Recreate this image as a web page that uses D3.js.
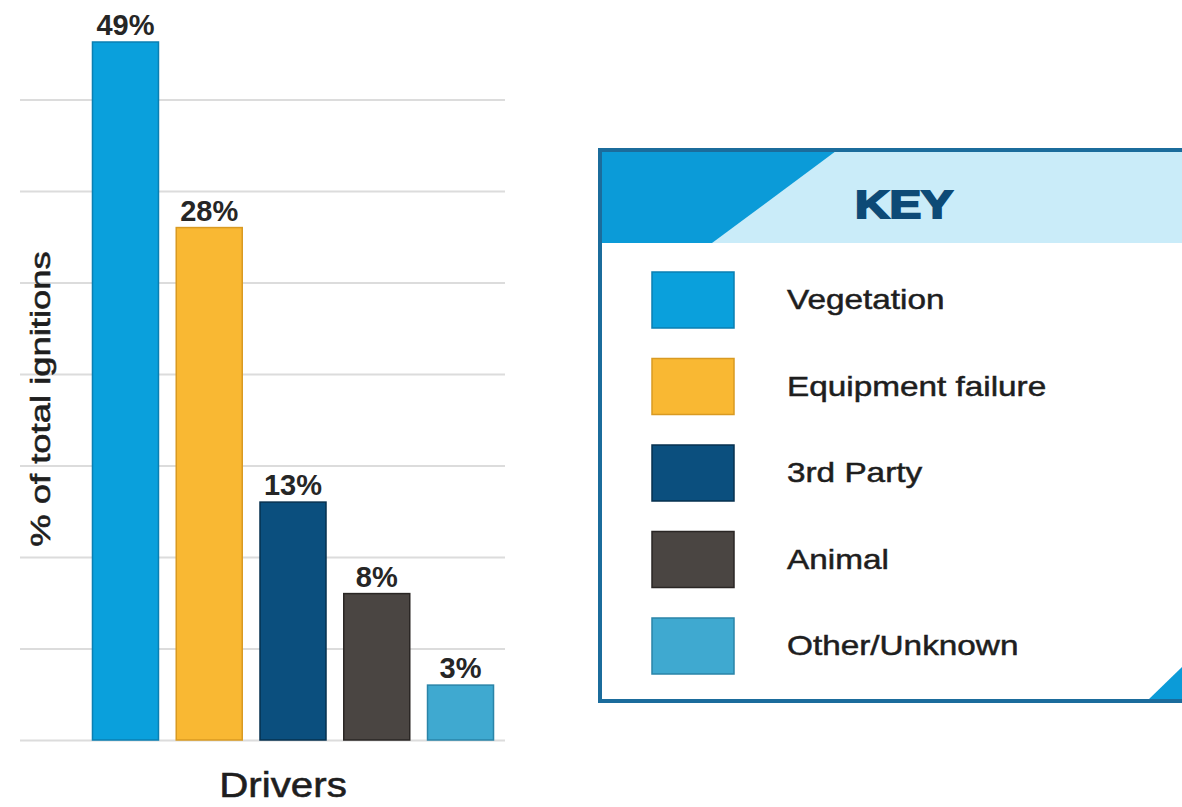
<!DOCTYPE html>
<html>
<head>
<meta charset="utf-8">
<script src="https://cdn.jsdelivr.net/npm/d3@7/dist/d3.min.js"></script>
<style>
  html, body { margin: 0; padding: 0; background: #fff; }
  svg { display: block; }
  text { font-family: "Liberation Sans", Arial, sans-serif; }
</style>
</head>
<body>
<svg id="chart" width="1182" height="807"></svg>
<script>
// ---- data ----
const categories = ["Vegetation", "Equipment failure", "3rd Party", "Animal", "Other/Unknown"];
const values = [49, 28, 13, 8, 3];
const valueLabels = ["49%", "28%", "13%", "8%", "3%"];
const gridTicks = [0, 5, 10, 15, 20, 25, 30, 35];
const legendTitle = "KEY";
const xTitle = "Drivers";
const yTitle = "% of total ignitions";

// ---- styles ----
const fills = ["#0aa0dc", "#f9b833", "#0b4f7e", "#4a4542", "#3fa9d0"];
const strokes = ["#0a7fb2", "#d99a22", "#06304f", "#2a2624", "#2a84a8"];
const ink = "#1e1e1e";

const svg = d3.select("#chart");
svg.append("rect").attr("width", 1182).attr("height", 807).attr("fill", "#fff");

// ---- scales ----
const x = d3.scaleBand().domain(categories).range([83.6, 502.4])
  .paddingInner(0.212).paddingOuter(0.106);
const y = d3.scaleLinear().domain([0, 38.14]).range([740, 42]).clamp(true);

// ---- gridlines ----
const grid = svg.append("g").attr("transform", "translate(505,0)")
  .call(d3.axisLeft(y).tickValues(gridTicks).tickSize(485).tickFormat(""));
grid.select(".domain").remove();
grid.selectAll(".tick line").attr("stroke", "#dcdcdc").attr("stroke-width", 2);

// ---- bars ----
svg.append("g").selectAll("rect").data(categories).join("rect")
  .attr("x", d => x(d))
  .attr("width", x.bandwidth())
  .attr("y", (d, i) => y(values[i]))
  .attr("height", (d, i) => y(0) - y(values[i]))
  .attr("fill", (d, i) => fills[i])
  .attr("stroke", (d, i) => strokes[i])
  .attr("stroke-width", 1.5);

svg.append("g").selectAll("text").data(categories).join("text")
  .attr("x", d => x(d) + x.bandwidth() / 2)
  .attr("y", (d, i) => y(values[i]) - 7)
  .attr("text-anchor", "middle")
  .attr("font-size", 29)
  .attr("font-weight", "bold")
  .attr("fill", "#262626")
  .text((d, i) => valueLabels[i]);

// ---- axis titles ----
svg.append("text")
  .attr("transform", "translate(283,797) scale(1.12,1)")
  .attr("text-anchor", "middle")
  .attr("font-size", 36)
  .attr("fill", ink)
  .attr("stroke", ink).attr("stroke-width", 0.6)
  .text(xTitle);

svg.append("text")
  .attr("transform", "translate(50,399) rotate(-90) scale(1.3,1)")
  .attr("text-anchor", "middle")
  .attr("font-size", 28)
  .attr("fill", ink)
  .attr("stroke", ink).attr("stroke-width", 0.6)
  .text(yTitle);

// ---- legend box ----
const lg = svg.append("g");
lg.append("rect").attr("x", 600).attr("y", 151).attr("width", 582).attr("height", 92).attr("fill", "#caecf9");
lg.append("path").attr("d", "M600,151 L836,151 L712,243 L600,243 Z").attr("fill", "#0b9bd8");
lg.append("path").attr("d", "M1147,701 L1182,667 L1182,701 Z").attr("fill", "#0b9bd8");
lg.append("line").attr("x1", 598).attr("x2", 1182).attr("y1", 150).attr("y2", 150)
  .attr("stroke", "#1b6c9c").attr("stroke-width", 4);
lg.append("line").attr("x1", 600).attr("x2", 600).attr("y1", 148).attr("y2", 703)
  .attr("stroke", "#1b6c9c").attr("stroke-width", 4);
lg.append("line").attr("x1", 598).attr("x2", 1182).attr("y1", 701).attr("y2", 701)
  .attr("stroke", "#1b6c9c").attr("stroke-width", 4);

lg.append("text")
  .attr("transform", "translate(904,218) scale(1.22,1)")
  .attr("text-anchor", "middle")
  .attr("font-size", 39)
  .attr("font-weight", "bold")
  .attr("fill", "#0d4a76")
  .attr("stroke", "#0d4a76")
  .attr("stroke-width", 2)
  .text(legendTitle);

const ly = d3.scalePoint().domain(categories).range([300, 646]);
const rows = lg.append("g").selectAll("g").data(categories).join("g")
  .attr("transform", d => `translate(0,${ly(d)})`);
rows.append("rect")
  .attr("x", 652).attr("y", -28).attr("width", 82).attr("height", 56)
  .attr("fill", (d, i) => fills[i])
  .attr("stroke", (d, i) => strokes[i])
  .attr("stroke-width", 1.5);
rows.append("text")
  .attr("transform", "translate(787,9) scale(1.19,1)")
  .attr("font-size", 28)
  .attr("fill", ink)
  .attr("stroke", ink).attr("stroke-width", 0.5)
  .text(d => d);
</script>
</body>
</html>
